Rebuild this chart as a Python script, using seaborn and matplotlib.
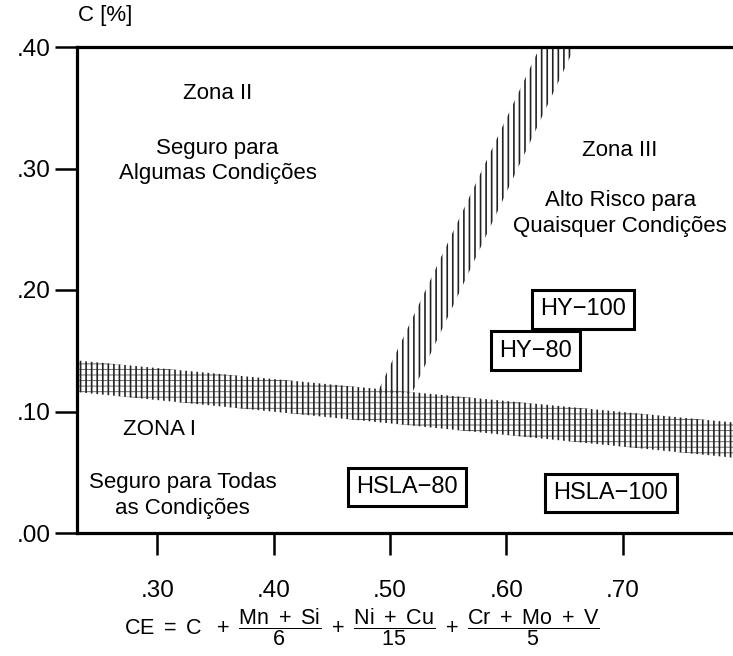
import matplotlib
matplotlib.use("Agg")
import matplotlib.pyplot as plt
import seaborn as sns

# Carbon-equivalent axis (CE) and carbon content (C) limits
ce_limits = [0.231, 0.795]
c_limits = [0.0, 0.40]
x_ticks = [0.30, 0.40, 0.50, 0.60, 0.70]
x_tick_labels = [".30", ".40", ".50", ".60", ".70"]
y_ticks = [0.00, 0.10, 0.20, 0.30, 0.40]
y_tick_labels = [".00", ".10", ".20", ".30", ".40"]

# Zone I / Zone II boundary band (nearly horizontal)
band_ce = [0.231, 0.795]
band_upper = [0.142, 0.091]
band_lower = [0.116, 0.062]

# Zone II / Zone III boundary band (diagonal)
diag_c = [0.115, 0.40]
diag_left = [0.489, 0.629]
diag_right = [0.519, 0.659]

# Steel grades placed in the diagram
steel_names = ["HY-100", "HY-80", "HSLA-80", "HSLA-100"]
steel_ce = [0.666, 0.625, 0.515, 0.690]
steel_c = [0.184, 0.150, 0.038, 0.033]

sns.set_theme(style="white")
plt.rcParams["font.family"] = ["Liberation Sans", "DejaVu Sans"]
plt.rcParams["mathtext.fontset"] = "custom"
plt.rcParams["mathtext.rm"] = "Liberation Sans"
plt.rcParams["mathtext.it"] = "Liberation Sans"

fig = plt.figure(figsize=(7.33, 6.56), dpi=100)
ax = fig.add_axes([77 / 733, (656 - 533) / 656, 656 / 733, 486 / 656])

# Boundary bands drawn as stippled (hatched) regions
plt.rcParams["hatch.linewidth"] = 0.7
ax.fill_between(band_ce, band_lower, band_upper, facecolor="none",
                edgecolor="#6a6a6a", hatch="---", linewidth=0)
plt.rcParams["hatch.linewidth"] = 1.2
ax.fill_between(band_ce, band_lower, band_upper, facecolor="none",
                edgecolor="#222222", hatch="|||", linewidth=0)
ax.fill_betweenx(diag_c, diag_left, diag_right, facecolor="none",
                 edgecolor="#222222", hatch="|||", linewidth=0)

ax.set_xlim(ce_limits)
ax.set_ylim(c_limits)
ax.set_xticks(x_ticks)
ax.set_xticklabels(x_tick_labels)
ax.set_yticks(y_ticks)
ax.set_yticklabels(y_tick_labels)
ax.tick_params(axis="both", direction="out", length=16, width=1.8,
               color="black", labelsize=17.5, labelcolor="black",
               bottom=True, left=True, top=False, right=False)
ax.tick_params(axis="x", pad=18)
ax.tick_params(axis="y", pad=3)

sns.despine(ax=ax, top=False, right=True, left=False, bottom=False)
for side in ["left", "top", "bottom"]:
    ax.spines[side].set_linewidth(2.3)
    ax.spines[side].set_color("black")

txt = dict(ha="center", va="center", fontsize=16, color="black")
ax.text(0.352, 0.362, "Zona II", **txt)
ax.text(0.352, 0.306, "Seguro para\nAlgumas Condições", linespacing=1.25, **txt)
ax.text(0.698, 0.315, "Zona III", **txt)
ax.text(0.698, 0.263, "Alto Risco para\nQuaisquer Condições", linespacing=1.3, **txt)
ax.text(0.302, 0.085, "ZONA I", **txt)
ax.text(0.322, 0.031, "Seguro para Todas\nas Condições", linespacing=1.3, **txt)

for name, ce, c in zip(steel_names, steel_ce, steel_c):
    ax.text(ce, c, name.replace("-", "\u2212"), ha="center", va="center",
            fontsize=17, color="black",
            bbox=dict(boxstyle="square,pad=0.35", facecolor="white",
                      edgecolor="black", linewidth=2.2))

ax.text(0.043, 1.065, "C [%]", transform=ax.transAxes, ha="center",
        va="center", fontsize=16, color="black")

fig.text(362 / 733, 1 - 627 / 656,
         r"$\mathrm{CE\ =\ C\ \ +\ \dfrac{Mn\ +\ Si}{6}\ +\ \dfrac{Ni\ +\ Cu}{15}"
         r"\ +\ \dfrac{Cr\ +\ Mo\ +\ V}{5}}$",
         ha="center", va="center", fontsize=15.5, color="black")

fig.savefig("out.png", dpi=100, facecolor="white")
